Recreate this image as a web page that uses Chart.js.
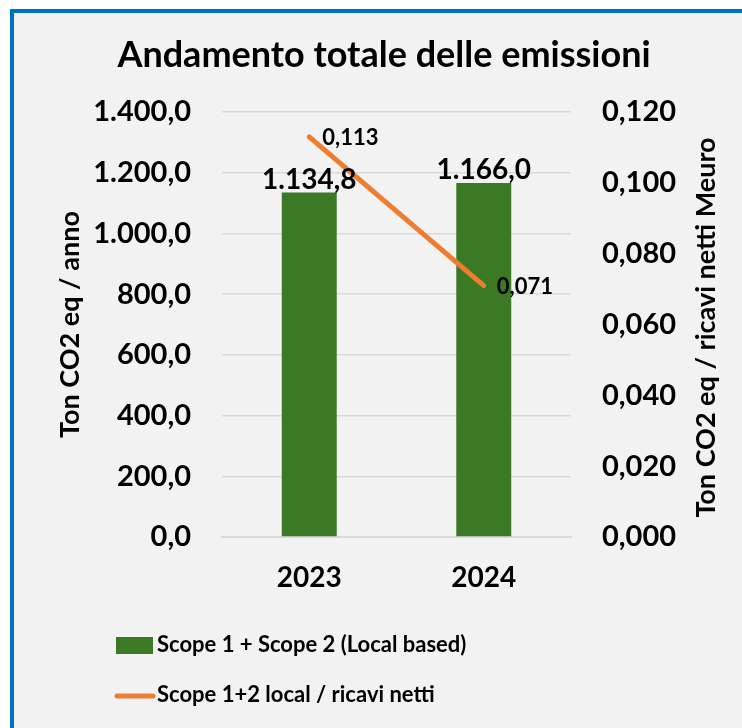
<!DOCTYPE html>
<html>
<head>
<meta charset="utf-8">
<script src="https://cdn.jsdelivr.net/npm/chart.js@4.4.1/dist/chart.umd.min.js"></script>
<style>
  body { margin: 0; background: #ffffff; }
  #frame {
    position: absolute; left: 10px; top: 9px;
    width: 728px; height: 715px;
    border-left: 4px solid #0070c0; border-top: 4px solid #0070c0;
    background: #f2f2f2;
  }
  canvas { display: block; }
</style>
</head>
<body>
<div id="frame"><canvas id="myChart" width="728" height="715"></canvas></div>
<script>
const FONT = "Lato, 'Open Sans', sans-serif";
const BAR_COLOR = "#3b7a25";
const LINE_COLOR = "#ed7d31";
const GRID_COLOR = "#d9d9d9";

const chartTitle = "Andamento totale delle emissioni";
const years = ["2023", "2024"];
const emissions = [1134.8, 1166.0];
const intensity = [0.113, 0.071];
const leftAxisTitle = "Ton CO2 eq / anno";
const rightAxisTitle = "Ton CO2 eq / ricavi netti Meuro";
const barLabel = "Scope 1 + Scope 2 (Local based)";
const lineLabel = "Scope 1+2 local / ricavi netti";
const leftRange = [0, 1400, 200];
const rightRange = [0, 0.12, 0.02];

// Italian number format: 1.234,5
function fmtIt(v, dec) {
    var parts = v.toFixed(dec).split(".");
    var intPart = parts[0].replace(/\B(?=(\d{3})+(?!\d))/g, ".");
    return parts.length > 1 ? intPart + "," + parts[1] : intPart;
}

const extrasPlugin = {
    id: "extras",
    afterDraw(chart) {
        const ctx = chart.ctx;
        const area = chart.chartArea;
        ctx.save();
        ctx.fillStyle = "#000";

        // chart title
        ctx.font = "bold 36px " + FONT;
        ctx.textAlign = "center";
        ctx.textBaseline = "middle";
        ctx.fillText(chartTitle, 370, 42);

        // right axis title, reads bottom to top like the left one
        ctx.save();
        ctx.font = "bold 27px " + FONT;
        ctx.translate(692, (area.top + area.bottom) / 2 + 3);
        ctx.rotate(-Math.PI / 2);
        ctx.fillText(rightAxisTitle, 0, 0);
        ctx.restore();

        // bar value labels
        ctx.font = "bold 28px " + FONT;
        ctx.textBaseline = "alphabetic";
        chart.getDatasetMeta(0).data.forEach((bar, i) => {
            ctx.fillText(fmtIt(emissions[i], 1), bar.x, bar.y - 4);
        });

        // line value labels
        ctx.font = "bold 22px " + FONT;
        ctx.textAlign = "left";
        ctx.textBaseline = "middle";
        chart.getDatasetMeta(1).data.forEach((pt, i) => {
            ctx.fillText(fmtIt(intensity[i], 3), pt.x + 13, pt.y + 1);
        });

        // legend
        ctx.font = "bold 22px " + FONT;
        ctx.fillStyle = BAR_COLOR;
        ctx.fillRect(102, 624, 37, 17);
        ctx.fillStyle = "#000";
        ctx.fillText(barLabel, 143, 632);
        ctx.strokeStyle = LINE_COLOR;
        ctx.lineWidth = 5;
        ctx.lineCap = "round";
        ctx.beginPath();
        ctx.moveTo(103, 683);
        ctx.lineTo(139, 683);
        ctx.stroke();
        ctx.fillText(lineLabel, 143, 682);
        ctx.restore();
    }
};

const chart = new Chart(document.getElementById("myChart"), {
    type: "bar",
    data: {
        labels: years,
        datasets: [
            {
                label: barLabel,
                data: emissions,
                backgroundColor: BAR_COLOR,
                yAxisID: "y",
                categoryPercentage: 1,
                barPercentage: 0.315,
                order: 2
            },
            {
                type: "line",
                label: lineLabel,
                data: intensity,
                borderColor: LINE_COLOR,
                borderWidth: 5,
                borderCapStyle: "round",
                pointRadius: 0,
                tension: 0,
                yAxisID: "y1",
                order: 1
            }
        ]
    },
    options: {
        responsive: false,
        animation: false,
        layout: { padding: { top: 99, left: 0, right: 0, bottom: 0 } },
        plugins: {
            legend: { display: false },
            title: { display: false },
            tooltip: { enabled: false }
        },
        scales: {
            x: {
                grid: { display: false, drawTicks: false },
                border: { color: GRID_COLOR, width: 2 },
                ticks: {
                    padding: 24,
                    color: "#000",
                    font: { family: FONT, size: 28, weight: "bold" }
                },
                afterFit: (scale) => { scale.height = 191; }
            },
            y: {
                position: "left",
                min: leftRange[0],
                max: leftRange[1],
                grid: { color: GRID_COLOR, lineWidth: 1.5, drawTicks: false },
                border: { display: false },
                ticks: {
                    stepSize: leftRange[2],
                    padding: 31,
                    color: "#000",
                    font: { family: FONT, size: 29, weight: "bold" },
                    callback: (v) => fmtIt(v, 1)
                },
                title: {
                    display: true,
                    text: leftAxisTitle,
                    color: "#000",
                    padding: { top: 40, bottom: 0 },
                    font: { family: FONT, size: 27, weight: "bold" }
                },
                afterFit: (scale) => { scale.width = 208; }
            },
            y1: {
                position: "right",
                min: rightRange[0],
                max: rightRange[1],
                grid: { display: false, drawTicks: false },
                border: { display: false },
                ticks: {
                    stepSize: rightRange[2],
                    padding: 31,
                    color: "#000",
                    font: { family: FONT, size: 29, weight: "bold" },
                    callback: (v) => fmtIt(v, 3)
                },
                afterFit: (scale) => { scale.width = 171; }
            }
        }
    },
    plugins: [extrasPlugin]
});
</script>
</body>
</html>
